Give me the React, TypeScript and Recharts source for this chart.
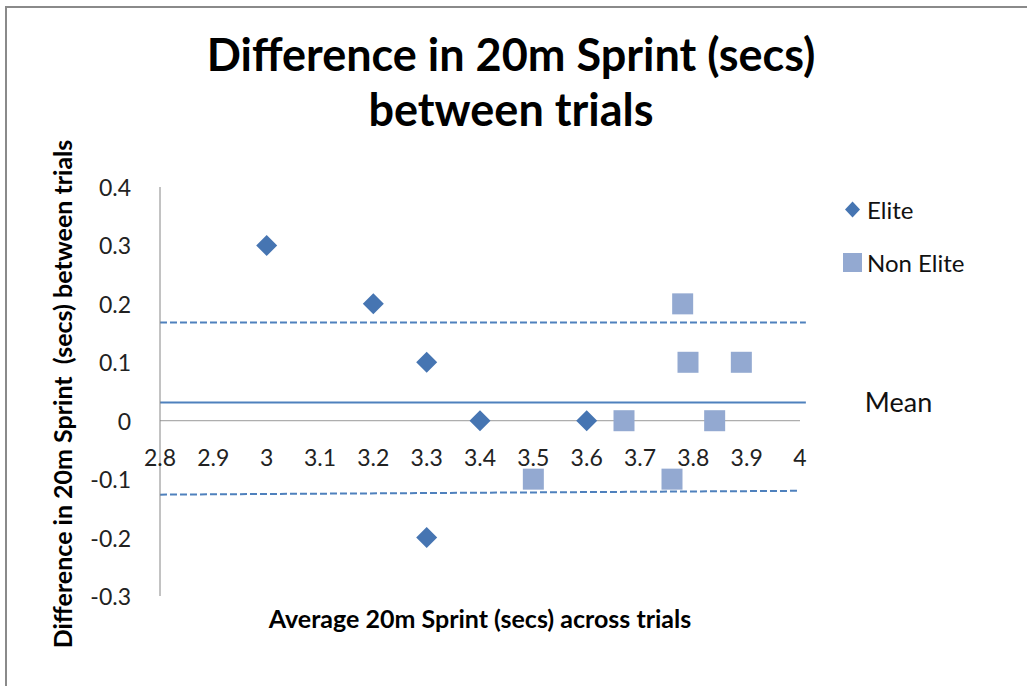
import React from 'react';
import { ScatterChart, Scatter, XAxis, YAxis, ReferenceLine } from 'recharts';

const eliteX = [3.0, 3.2, 3.3, 3.4, 3.6, 3.3];
const eliteY = [0.3, 0.2, 0.1, 0, 0, -0.2];
const nonEliteX = [3.67, 3.5, 3.76, 3.78, 3.79, 3.84, 3.89];
const nonEliteY = [0, -0.1, -0.1, 0.2, 0.1, 0, 0.1];
const xTicks = [2.8, 2.9, 3, 3.1, 3.2, 3.3, 3.4, 3.5, 3.6, 3.7, 3.8, 3.9, 4];
const yTicks = [-0.3, -0.2, -0.1, 0, 0.1, 0.2, 0.3, 0.4];
const meanValue = 0.031;
const upperLimit = 0.168;
const lowerLimitStart = -0.1265;
const lowerLimitEnd = -0.12;
const lineStartX = 2.8;
const lineEndX = 4.011;
const lowerEndX = 3.995;

const eliteData = eliteX.map((x, i) => ({ x, y: eliteY[i] }));
const nonEliteData = nonEliteX.map((x, i) => ({ x, y: nonEliteY[i] }));

const ELITE = '#4675b2';
const NONELITE = '#93a9d1';
const LINE = '#4f81bd';
const FONT = 'Lato, "Open Sans", sans-serif';

const W = 1027;
const H = 686;
const TOP = 187;
const BOTTOM = 596;
const LEFT = 160;
const RIGHT = 800;
const YMIN = -0.3;
const YMAX = 0.4;

const Diamond = (props: any) => {
  const { cx, cy } = props;
  const r = 10.5;
  return <path d={`M${cx},${cy - r}L${cx + r},${cy}L${cx},${cy + r}L${cx - r},${cy}Z`} fill={ELITE} />;
};

const Square = (props: any) => {
  const { cx, cy } = props;
  const s = 21;
  return <rect x={cx - s / 2} y={cy - s / 2} width={s} height={s} fill={NONELITE} />;
};

const zeroOffset = ((0 - YMIN) / (YMAX - YMIN)) * (BOTTOM - TOP);

const XTick = (props: any) => {
  const { x, y, payload } = props;
  return (
    <text x={x} y={y - zeroOffset + 28} textAnchor="middle" dominantBaseline="central" fontFamily={FONT} fontSize={23} fill="#222">
      {payload.value}
    </text>
  );
};

const YTick = (props: any) => {
  const { x, y, payload } = props;
  return (
    <text x={x - 21} y={y} textAnchor="end" dominantBaseline="central" fontFamily={FONT} fontSize={23} fill="#222">
      {payload.value}
    </text>
  );
};

export default function App() {
  return (
    <div style={{ position: 'absolute', left: 0, top: 0, width: W, height: H, background: '#fff', overflow: 'hidden' }}>
      <div style={{ position: 'absolute', left: 5, top: 6, width: W, height: 2, background: '#8a8a8a' }} />
      <div style={{ position: 'absolute', left: 5, top: 6, width: 2, height: H, background: '#8a8a8a' }} />
      <div style={{ position: 'absolute', left: 0, width: 1022, top: 27, textAlign: 'center', fontFamily: FONT, fontWeight: 700, fontSize: 45, lineHeight: '55px', color: '#000' }}>
        <div>Difference in 20m Sprint (secs)</div>
        <div>between trials</div>
      </div>
      <div style={{ position: 'absolute', left: 160, width: 640, top: 602, textAlign: 'center', fontFamily: FONT, fontWeight: 700, fontSize: 25, lineHeight: '32px', color: '#000' }}>
        Average 20m Sprint (secs) across trials
      </div>
      <div
        style={{
          position: 'absolute',
          left: 62 - 280,
          top: 394 - 16,
          width: 560,
          height: 32,
          lineHeight: '32px',
          textAlign: 'center',
          transform: 'rotate(-90deg)',
          fontFamily: FONT,
          fontWeight: 700,
          fontSize: 25,
          color: '#000',
          whiteSpace: 'pre',
        }}
      >
        {'Difference in 20m Sprint  (secs) between trials'}
      </div>
      <div style={{ position: 'absolute', left: 843, top: 196, fontFamily: FONT, fontSize: 24, color: '#111' }}>
        <div style={{ display: 'flex', alignItems: 'center', height: 26 }}>
          <svg width={19} height={19} style={{ marginRight: 5 }}>
            <path d="M9.5,1.5L17,9.5L9.5,17.5L2,9.5Z" fill={ELITE} />
          </svg>
          Elite
        </div>
        <div style={{ display: 'flex', alignItems: 'center', height: 26, marginTop: 27 }}>
          <svg width={19} height={19} style={{ marginRight: 5 }}>
            <rect x={0} y={0} width={19} height={19} fill={NONELITE} />
          </svg>
          Non Elite
        </div>
      </div>
      <div style={{ position: 'absolute', left: 0, top: 0 }}>
        <ScatterChart width={W} height={H} margin={{ top: TOP, bottom: H - BOTTOM - 30, left: LEFT - 60, right: W - RIGHT }}>
          <XAxis
            type="number"
            dataKey="x"
            domain={[2.8, 4]}
            ticks={xTicks}
            axisLine={false}
            tickLine={false}
            tick={<XTick />}
            height={30}
            allowDataOverflow
          />
          <YAxis
            type="number"
            dataKey="y"
            domain={[YMIN, YMAX]}
            ticks={yTicks}
            axisLine={{ stroke: '#868686', strokeWidth: 1 }}
            tickLine={false}
            tick={<YTick />}
            width={60}
          />
          <ReferenceLine y={0} stroke="#9a9a9a" strokeWidth={1} />
          <ReferenceLine
            segment={[{ x: lineStartX, y: meanValue }, { x: lineEndX, y: meanValue }]}
            stroke={LINE}
            strokeWidth={2}
            ifOverflow="visible"
            label={{ value: 'Mean', position: 'right', offset: 59, fill: '#111', fontSize: 27, fontFamily: FONT }}
          />
          <ReferenceLine
            segment={[{ x: lineStartX, y: upperLimit }, { x: lineEndX, y: upperLimit }]}
            stroke={LINE}
            strokeWidth={2}
            strokeDasharray="7 3"
            ifOverflow="visible"
          />
          <ReferenceLine
            segment={[{ x: lineStartX, y: lowerLimitStart }, { x: lowerEndX, y: lowerLimitEnd }]}
            stroke={LINE}
            strokeWidth={2}
            strokeDasharray="7 3"
            ifOverflow="visible"
          />
          <Scatter name="Elite" data={eliteData} fill={ELITE} shape={<Diamond />} isAnimationActive={false} />
          <Scatter name="Non Elite" data={nonEliteData} fill={NONELITE} shape={<Square />} isAnimationActive={false} />
        </ScatterChart>
      </div>
    </div>
  );
}
